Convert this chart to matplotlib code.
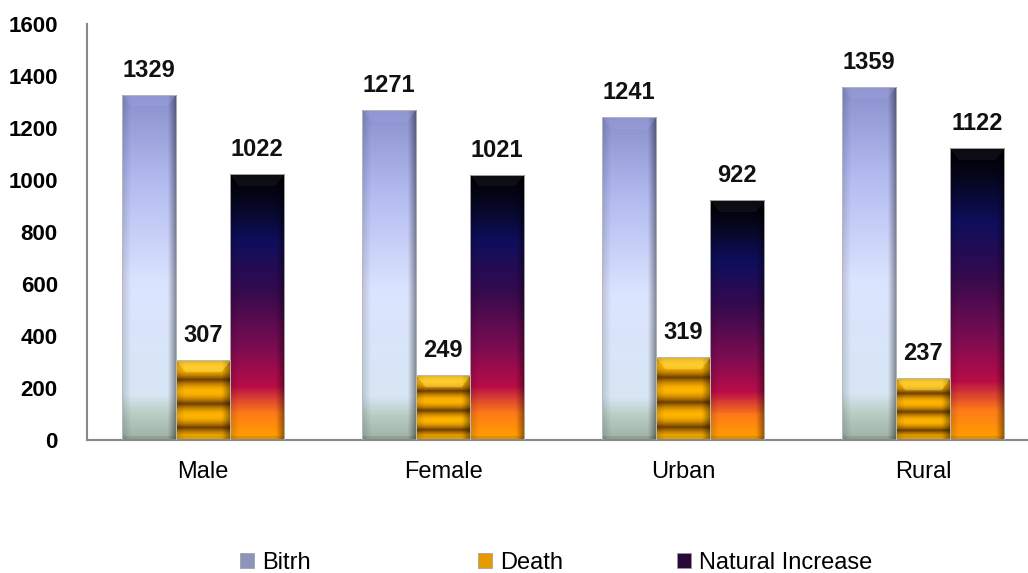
import numpy as np
import matplotlib
matplotlib.use("Agg")
import matplotlib.pyplot as plt
from matplotlib.colors import LinearSegmentedColormap, to_rgb

# data
categories = ["Male", "Female", "Urban", "Rural"]
birth = [1329, 1271, 1241, 1359]
death = [307, 249, 319, 237]
natural_increase = [1022, 1021, 922, 1122]
series_names = ["Bitrh", "Death", "Natural Increase"]

plt.rcParams['font.family'] = ['Liberation Sans', 'DejaVu Sans']

fig = plt.figure(figsize=(10.28, 5.73), dpi=100)
ax = fig.add_axes([0.0846, 0.232, 0.94, 0.726])
ax.set_ylim(0, 1600)
ax.set_xlim(-0.483, 3.542)

# vertical colour ramps (bottom -> top)
birth_cmap = LinearSegmentedColormap.from_list("birth", [
    (0.0, "#9fb2a6"), (0.07, "#b8ccc2"), (0.13, "#d8e6f4"),
    (0.45, "#dbe4ff"), (0.75, "#b3baf0"), (1.0, "#8a90cc")])
ni_cmap = LinearSegmentedColormap.from_list("ni", [
    (0.0, "#ffa000"), (0.1, "#ff7a18"), (0.2, "#b80c48"),
    (0.35, "#7a0c52"), (0.55, "#380a4e"), (0.75, "#0e0e5c"),
    (0.9, "#06061e"), (1.0, "#000000")])


def death_colour(t):
    bright = np.array(to_rgb("#ffb400"))
    dark = np.array(to_rgb("#6a3a00"))
    m = 0.5 + 0.5 * np.cos(2 * np.pi * 3.3 * t)
    m = m ** 0.45
    return bright[None, :] * m[:, None] + dark[None, :] * (1 - m[:, None])


def bar_image(colfun, w_px, h_px, top_light, top_mix):
    ny = max(int(h_px), 2)
    nx = max(int(w_px), 2)
    t = np.linspace(1, 0, ny)  # image rows top -> bottom
    col = colfun(t)[:, :3]
    img = np.repeat(col[:, None, :], nx, axis=1)
    xs = np.arange(nx)[None, :] + 0.5
    ys = np.arange(ny)[:, None] + 0.5
    bev = 9.0
    right = np.clip((xs - (nx - bev)) / bev, 0, 1)
    left = np.clip((bev - xs) / bev, 0, 1)
    shade = 1 - 0.45 * right - 0.15 * left
    shade = np.broadcast_to(shade, (ny, nx)).copy()
    img = img * shade[:, :, None]
    # top bevel trapezoid
    topmask = (ys < bev * 1.3) & (xs > ys / 1.3) & (xs < nx - ys / 1.3)
    img[topmask] = img[topmask] * (1 - top_mix) + np.array(to_rgb(top_light)) * top_mix
    # bottom bevel slightly darker
    botmask = np.broadcast_to(ys > ny - 4, (ny, nx))
    img[botmask] *= 0.9
    return np.clip(img, 0, 1)


width = 0.225
offsets = [-width, 0, width]
x = np.arange(len(categories))
all_series = [birth, death, natural_increase]
colfuns = [lambda t: np.array(birth_cmap(t)), death_colour, lambda t: np.array(ni_cmap(t))]
top_lights = ["#a0a6e0", "#fff070", "#303040"]
top_mixes = [0.3, 0.4, 0.25]
legend_colors = ["#8c94bc", "#e49a00", "#2a0838"]
legend_x = [240, 478, 677]  # icon left edge, px

fig.canvas.draw()
px_per_val = ax.transData.transform((0, 1))[1] - ax.transData.transform((0, 0))[1]
px_per_x = ax.transData.transform((1, 0))[0] - ax.transData.transform((0, 0))[0]

for vals, off, cf, tl, tm, lc, name, lx in zip(all_series, offsets, colfuns, top_lights, top_mixes,
                                               legend_colors, series_names, legend_x):
    bars = ax.bar(x + off, vals, width, facecolor="none", edgecolor="#bbbbbb", linewidth=0.6, zorder=3)
    for rect, v in zip(bars, vals):
        x0, w, h = rect.get_x(), rect.get_width(), rect.get_height()
        img = bar_image(cf, w * px_per_x, h * px_per_val, tl, tm)
        im = ax.imshow(img, extent=(x0, x0 + w, 0, h), aspect="auto", zorder=2, interpolation="bilinear")
        im.set_clip_path(rect)
        ax.text(x0 + w / 2, h + 50, str(v), ha="center", va="bottom",
                fontsize=17, fontweight="bold", color="#111111")
    handle = plt.Rectangle((0, 0), 1, 1, facecolor=lc, edgecolor="#999999", linewidth=0.5)
    fig.legend([handle], [name], loc="center left", bbox_to_anchor=(lx / 1028, 1 - 563 / 573),
               frameon=False, fontsize=17, handlelength=0.6, handleheight=0.6,
               handletextpad=0.35, borderpad=0, borderaxespad=0)

ax.set_xlim(-0.483, 3.542)
ax.set_ylim(0, 1600)

ax.set_yticks(range(0, 1601, 200))
ax.set_xticks(x)
ax.set_xticklabels(categories, fontsize=17)
for lab in ax.get_yticklabels():
    lab.set_fontweight("bold")
    lab.set_fontsize(16)
ax.tick_params(axis="y", length=0, pad=21)
ax.tick_params(axis="x", length=0, pad=15)

for s in ["top", "right"]:
    ax.spines[s].set_visible(False)
for s in ["left", "bottom"]:
    ax.spines[s].set_color("#888888")
    ax.spines[s].set_linewidth(1.5)

fig.savefig("out.png", dpi=100)
